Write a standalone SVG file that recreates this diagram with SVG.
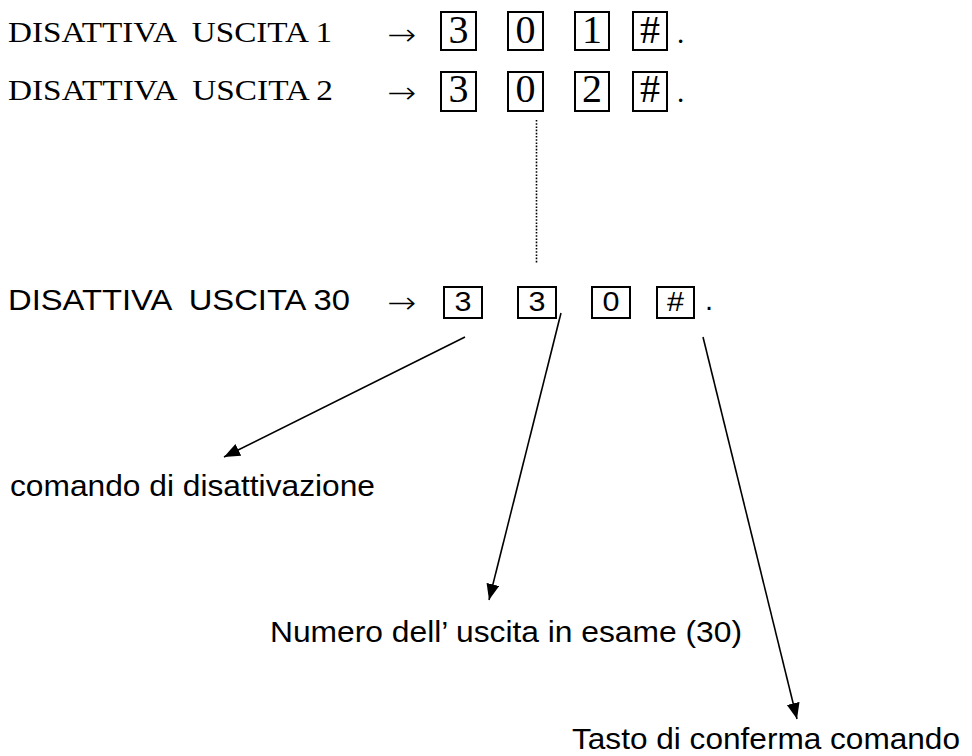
<svg xmlns="http://www.w3.org/2000/svg" width="972" height="756" viewBox="0 0 972 756">
<style>
.t{font-family:"Liberation Serif","DejaVu Serif",serif;font-size:29px;fill:#000;white-space:pre}
.a{font-family:"Liberation Sans",Arial,sans-serif;font-size:29px;fill:#000;white-space:pre}
.ar{font-family:"DejaVu Sans",sans-serif;font-weight:200;font-size:30px;fill:#000}
.dt{font-family:"Liberation Serif","DejaVu Serif",serif;font-size:40px;fill:#000;text-anchor:middle}
.da{font-family:"Liberation Sans",Arial,sans-serif;font-size:27px;fill:#000;text-anchor:middle}
.box{fill:none;stroke:#000;stroke-width:2}
.ln{fill:none;stroke:#000;stroke-width:1.6}
</style>
<defs>
<marker id="ah" markerUnits="userSpaceOnUse" markerWidth="18" markerHeight="14" refX="16" refY="6.5" orient="auto">
<path d="M0,0 L16,6.5 L0,13 z" fill="#000"/>
</marker>
</defs>
<rect width="972" height="756" fill="#fff"/>
<g id="row1">
<text class="t" x="8" y="42" textLength="324" lengthAdjust="spacingAndGlyphs">DISATTIVA  USCITA 1</text>
<text class="ar" x="387" y="45" textLength="29" lengthAdjust="spacingAndGlyphs">→</text>
<rect class="box" x="441" y="12" width="35" height="38"/>
<rect class="box" x="508" y="12" width="35" height="38"/>
<rect class="box" x="575" y="12" width="34" height="38"/>
<rect class="box" x="633" y="12" width="34" height="38"/>
<text class="dt" x="458.5" y="43">3</text>
<text class="dt" x="525.5" y="43">0</text>
<text class="dt" x="592" y="43">1</text>
<text class="dt" x="650" y="43">#</text>
<text class="t" x="677" y="43">.</text>
</g>
<g id="row2">
<text class="t" x="8" y="100" textLength="325" lengthAdjust="spacingAndGlyphs">DISATTIVA  USCITA 2</text>
<text class="ar" x="387" y="103" textLength="29" lengthAdjust="spacingAndGlyphs">→</text>
<rect class="box" x="441" y="72" width="35" height="39"/>
<rect class="box" x="508" y="72" width="35" height="39"/>
<rect class="box" x="575" y="72" width="34" height="39"/>
<rect class="box" x="633" y="72" width="34" height="39"/>
<text class="dt" x="458.5" y="102">3</text>
<text class="dt" x="525.5" y="102">0</text>
<text class="dt" x="592" y="102">2</text>
<text class="dt" x="650" y="102">#</text>
<text class="t" x="677" y="102">.</text>
</g>
<g id="row3">
<text class="a" x="8" y="310" textLength="342" lengthAdjust="spacingAndGlyphs">DISATTIVA  USCITA 30</text>
<text class="ar" x="387" y="313" textLength="29" lengthAdjust="spacingAndGlyphs">→</text>
<rect class="box" x="444" y="287" width="38" height="31"/>
<rect class="box" x="518" y="287" width="38" height="31"/>
<rect class="box" x="592" y="287" width="38" height="31"/>
<rect class="box" x="657" y="287" width="37" height="31"/>
<text class="da" x="463" y="311" textLength="17" lengthAdjust="spacingAndGlyphs">3</text>
<text class="da" x="537" y="311" textLength="17" lengthAdjust="spacingAndGlyphs">3</text>
<text class="da" x="611" y="311" textLength="17" lengthAdjust="spacingAndGlyphs">0</text>
<text class="da" x="675.5" y="311" textLength="17" lengthAdjust="spacingAndGlyphs">#</text>
<text class="a" x="705" y="310">.</text>
</g>
<g id="label-comando">
<text class="a" x="10" y="496" textLength="365" lengthAdjust="spacingAndGlyphs">comando di disattivazione</text>
</g>
<g id="label-numero">
<text class="a" x="270" y="642" textLength="472" lengthAdjust="spacingAndGlyphs">Numero dell’ uscita in esame (30)</text>
</g>
<g id="label-tasto">
<text class="a" x="572" y="749" textLength="388" lengthAdjust="spacingAndGlyphs">Tasto di conferma comando</text>
</g>
<g id="connectors">
<line x1="536.5" y1="120" x2="536.5" y2="263" stroke="#000" stroke-width="1.6" stroke-dasharray="1.6 1.6"/>
<line class="ln" x1="465" y1="337" x2="224" y2="457" marker-end="url(#ah)"/>
<line class="ln" x1="561" y1="313" x2="489" y2="600" marker-end="url(#ah)"/>
<line class="ln" x1="703" y1="337" x2="797" y2="719" marker-end="url(#ah)"/>
</g>
</svg>
